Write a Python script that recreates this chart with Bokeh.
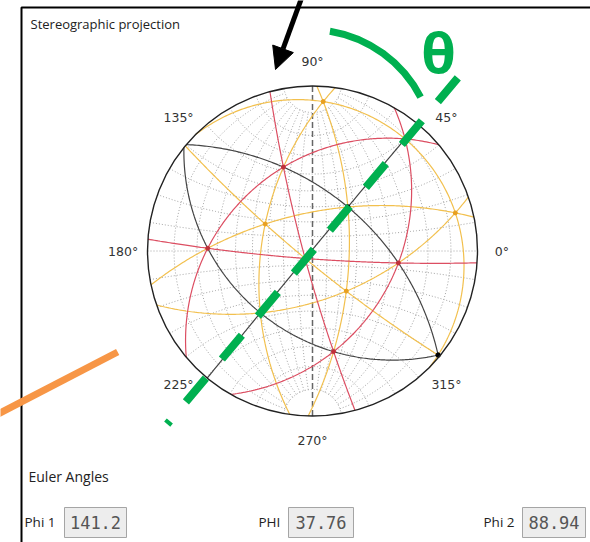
import numpy as np
from bokeh.plotting import figure
from bokeh.models import Range1d, Arrow, NormalHead
from bokeh.embed import file_html
from bokeh.resources import INLINE
from bokeh.core.properties import value

# ---------------- data ----------------
EULER_LABELS = ["Phi 1", "PHI", "Phi 2"]
EULER_VALUES = [141.2, 37.76, 88.94]          # Bunge angles (deg)
EULER_TEXT = ["141.2", "37.76", "88.94"]
PLANES_100 = [[1, 0, 0], [0, 1, 0], [0, 0, 1]]
PLANES_110 = [[1, 1, 0], [1, -1, 0], [1, 0, 1], [1, 0, -1], [0, 1, 1], [0, 1, -1]]
PLANES_111 = [[1, 1, 1], [-1, 1, 1], [1, -1, 1], [1, 1, -1]]
ANGLE_TICKS = [0, 45, 90, 135, 180, 225, 270, 315]
NET_STEP = 10                                  # Wulff net spacing (deg)
THETA_DIRECTION = 50.0                         # annotated direction (deg)

# ---------------- layout helpers (screen px -> data) ----------------
CX, CY, R = 312.0, 250.5, 165.0
def sx(x):
    return (x - CX) / R
def sy(y):
    return (CY - y) / R

W, H = 590, 542
p = figure(width=W, height=H, x_range=Range1d(sx(0), sx(W)),
           y_range=Range1d(sy(H), sy(0)), output_backend="svg",
           toolbar_location=None, min_border=0,
           x_axis_location=None, y_axis_location=None)
p.grid.visible = False
p.outline_line_color = None
p.background_fill_color = "white"
p.border_fill_color = "white"

# ---------------- orientation ----------------
def bunge(p1, P, p2):
    p1, P, p2 = np.radians([p1, P, p2])
    c1, s1 = np.cos(p1), np.sin(p1)
    c, s = np.cos(P), np.sin(P)
    c2, s2 = np.cos(p2), np.sin(p2)
    Rz1 = np.array([[c1, s1, 0], [-s1, c1, 0], [0, 0, 1]])
    Rx = np.array([[1, 0, 0], [0, c, s], [0, -s, c]])
    Rz2 = np.array([[c2, s2, 0], [-s2, c2, 0], [0, 0, 1]])
    return Rz2 @ Rx @ Rz1

G = bunge(*EULER_VALUES)

def to_sample(hkl):
    v = G.T @ np.array(hkl, float)
    v = v / np.linalg.norm(v)
    if v[2] < 0:
        v = -v
    return v

def proj(v):
    return v[0] / (1 + v[2]), v[1] / (1 + v[2])

def trace(hkl):
    n = to_sample(hkl)
    u = np.cross(n, [0, 0, 1.0])
    u /= np.linalg.norm(u)
    w = np.cross(n, u)
    if w[2] < 0:
        w = -w
    t = np.linspace(0, np.pi, 241)
    v = np.outer(np.cos(t), u) + np.outer(np.sin(t), w)
    return list(v[:, 0] / (1 + v[:, 2])), list(v[:, 1] / (1 + v[:, 2]))

# ---------------- Wulff net ----------------
xs, ys = [], []
tt = np.radians(np.linspace(-80, 80, 161))
for L in np.arange(-90 + NET_STEP, 90, NET_STEP):
    if L == 0:
        continue
    Lr = np.radians(L)
    vx = np.cos(tt) * np.sin(Lr); vy = np.sin(tt); vz = np.cos(tt) * np.cos(Lr)
    xs.append(list(vx / (1 + vz))); ys.append(list(vy / (1 + vz)))
ll = np.radians(np.linspace(-90, 90, 181))
for la in np.arange(-90 + NET_STEP, 90, NET_STEP):
    lr = np.radians(la)
    vx = np.cos(lr) * np.sin(ll); vy = np.sin(lr) * np.ones_like(ll); vz = np.cos(lr) * np.cos(ll)
    xs.append(list(vx / (1 + vz))); ys.append(list(vy / (1 + vz)))
p.multi_line(xs, ys, line_color="#a4a4a4", line_width=1, line_dash="1 2")
p.line([0, 0], [-1, 1], line_color="#666666", line_width=1.5, line_dash="6 3")

# ---------------- plane traces ----------------
for fam, col, lw in [(PLANES_110, "#f2c04e", 1.2), (PLANES_111, "#dc4e62", 1.2),
                     (PLANES_100, "#444444", 1.2)]:
    mx, my = [], []
    for hkl in fam:
        a, b = trace(hkl)
        mx.append(a); my.append(b)
    p.multi_line(mx, my, line_color=col, line_width=lw)

# poles
for fam, col, sz in [(PLANES_111, "#e8a020", 4), (PLANES_110, "#c0303a", 4),
                     (PLANES_100, "#000000", 4.5)]:
    pts = [proj(to_sample(h)) for h in fam]
    p.scatter([q[0] for q in pts], [q[1] for q in pts], size=sz, color=col)

# primitive circle
p.circle(x=[0], y=[0], radius=1, fill_color=None, line_color="#222222", line_width=1.4)

# angle labels
RL = 1.148
p.text(x=[RL * np.cos(np.radians(a)) for a in ANGLE_TICKS],
       y=[RL * np.sin(np.radians(a)) for a in ANGLE_TICKS],
       text=[f"{a}°" for a in ANGLE_TICKS], text_font=value("DejaVu Sans"),
       text_font_size="12.5px", text_align="center", text_baseline="middle",
       text_color="#333333")

# ---------------- group box and UI ----------------
p.line([sx(21), sx(21), sx(600)], [sy(560), sy(7), sy(7)], line_color="black", line_width=2)
p.text(x=[sx(30)], y=[sy(23)], text=["Stereographic projection"],
       text_font=value("Open Sans"), text_font_size="13px",
       text_baseline="middle", text_color="#222222")
p.text(x=[sx(28)], y=[sy(476)], text=["Euler Angles"],
       text_font=value("Open Sans"), text_font_size="14px",
       text_baseline="middle", text_color="#222222")

LABEL_X = [24, 258, 483]
BOX_L = [64, 288, 522]
BOX_R = [126, 353, 585]
p.text(x=[sx(v) for v in LABEL_X], y=[sy(521)] * 3, text=EULER_LABELS,
       text_font=value("Open Sans"), text_font_size="13.5px",
       text_baseline="middle", text_color="#222222")
p.quad(left=[sx(v) for v in BOX_L], right=[sx(v) for v in BOX_R],
       top=[sy(507)] * 3, bottom=[sy(537)] * 3,
       fill_color="#ededed", line_color="#a5a5a5", line_width=1)
p.text(x=[sx((a + b) / 2) for a, b in zip(BOX_L, BOX_R)], y=[sy(522)] * 3,
       text=EULER_TEXT, text_font=value("DejaVu Sans Mono"), text_font_size="17px",
       text_align="center", text_baseline="middle", text_color="#555555")

# ---------------- annotations ----------------
GREEN = "#00b050"
ORANGE = "#f79646"
ang = np.radians(THETA_DIRECTION)
p.line([1.37 * np.cos(ang), -1.37 * np.cos(ang)], [1.37 * np.sin(ang), -1.37 * np.sin(ang)],
       line_color=GREEN, line_width=8, line_dash="31 25")
p.arc(x=[sx(309)], y=[sy(154)], radius=125 / R, start_angle=27.3, end_angle=80.6,
      start_angle_units="deg", end_angle_units="deg", line_color=GREEN, line_width=7)
p.text(x=[sx(438)], y=[sy(50)], text=["θ"], text_font=value("Open Sans"),
       text_font_size="56px", text_font_style="bold", text_align="center",
       text_baseline="middle", text_color=GREEN)
oa = np.radians(207.4)
p.line([1.33 * np.cos(oa), 2.2 * np.cos(oa)], [1.33 * np.sin(oa), 2.2 * np.sin(oa)],
       line_color=ORANGE, line_width=7)
p.add_layout(Arrow(end=NormalHead(size=22, fill_color="black", line_color="black"),
                   x_start=sx(302), y_start=sy(-5), x_end=sx(275), y_end=sy(69),
                   line_width=5, line_color="black"))

open("out.html", "w").write(file_html(p, INLINE))
